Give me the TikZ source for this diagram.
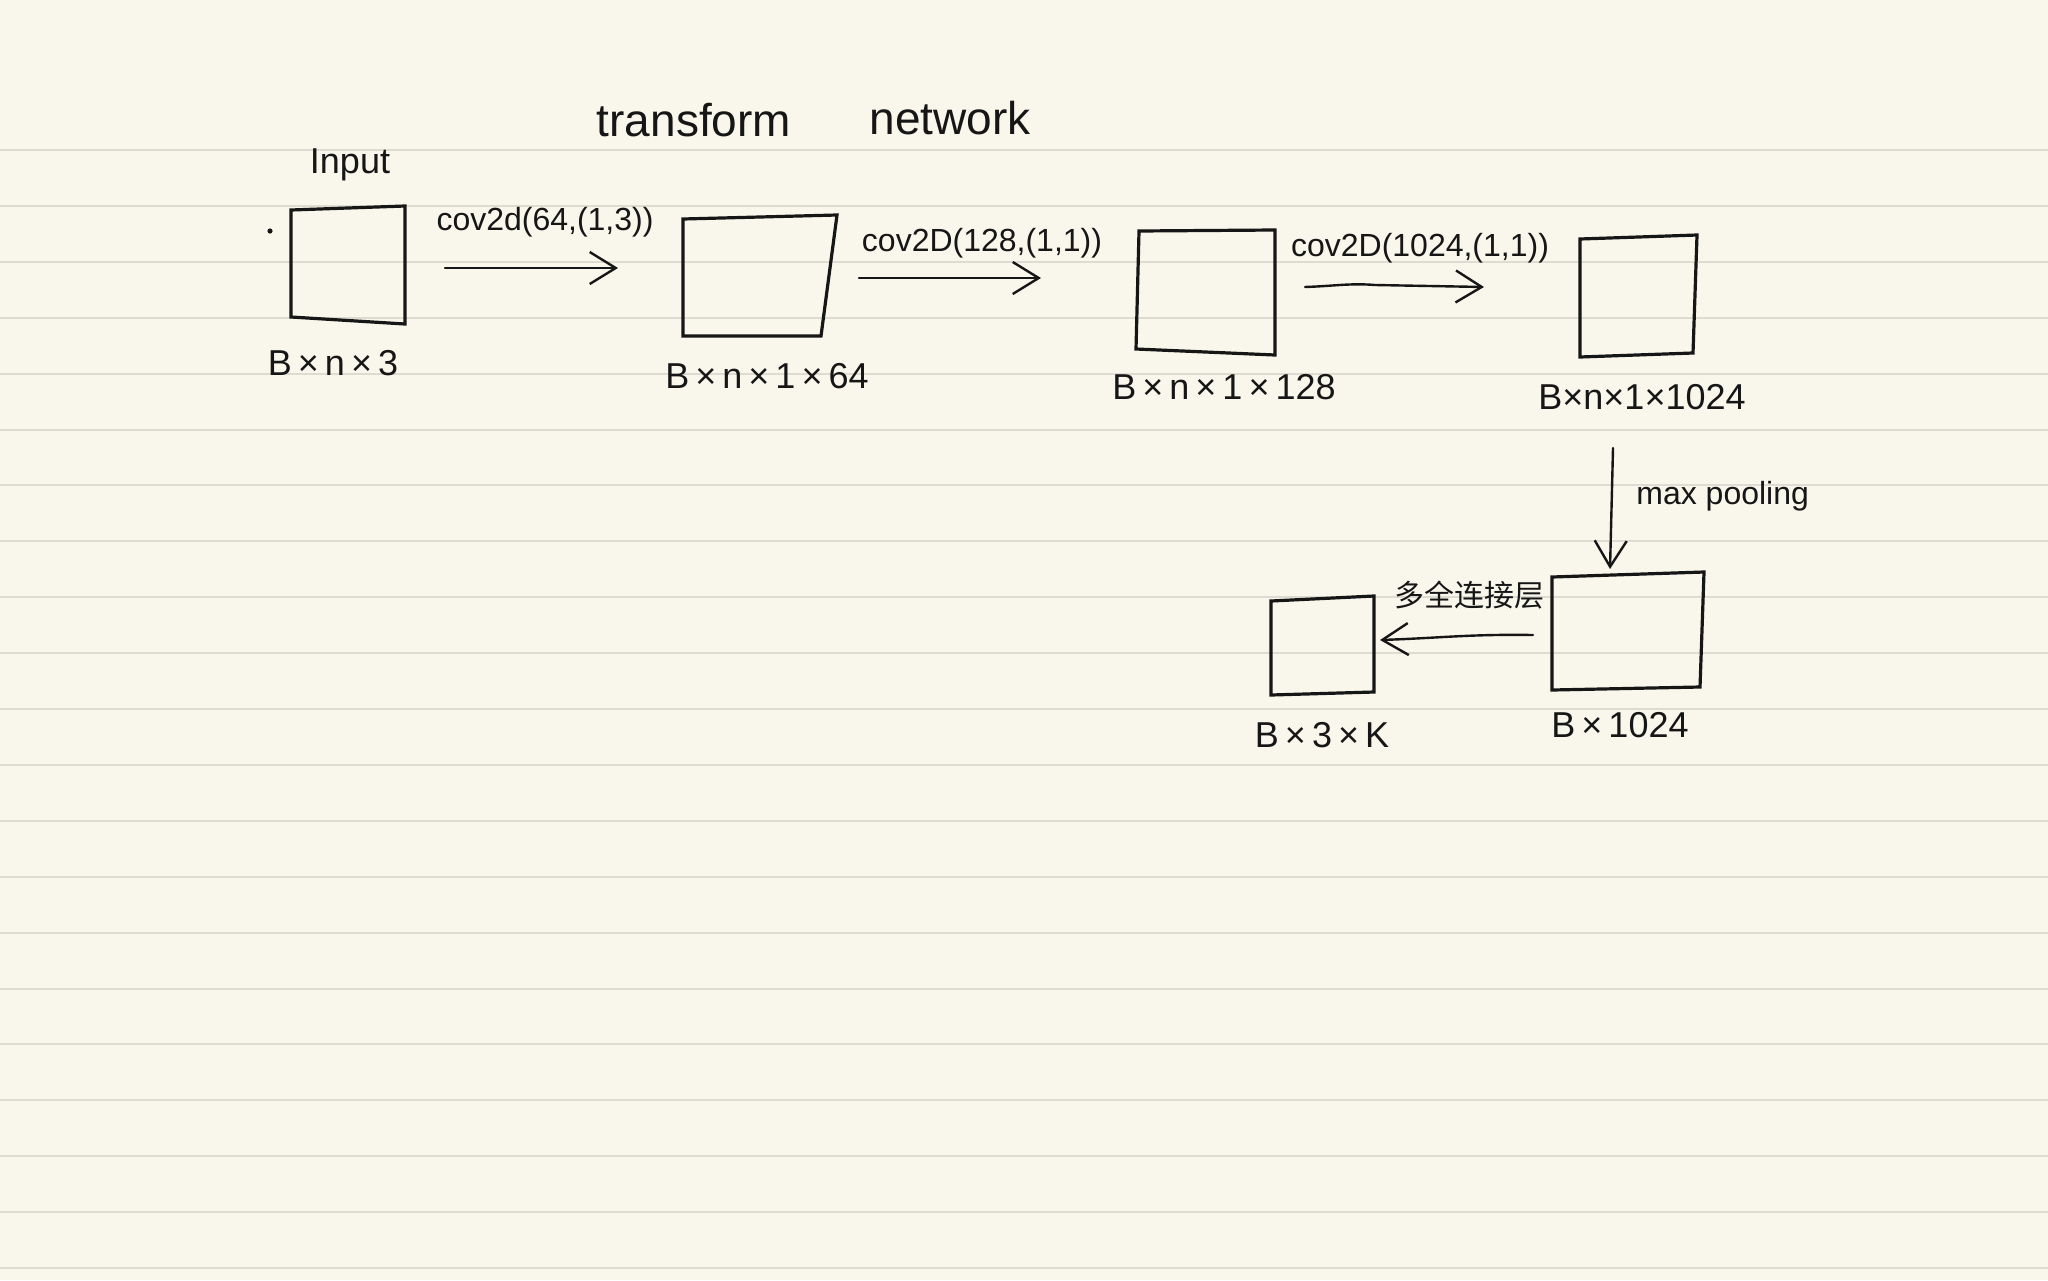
\documentclass[tikz,border=0pt]{standalone}
\usepackage{fontspec}
\setmainfont{Liberation Sans}
\newfontfamily\cjkfont{Noto Sans CJK SC}
\usetikzlibrary{arrows.meta}
\definecolor{paper}{RGB}{249,247,236}
\definecolor{ruleline}{RGB}{222,220,208}
\definecolor{ink}{RGB}{22,22,22}
\newcommand{\tms}{\,×\,}
\begin{document}
\begin{tikzpicture}[x=0.5pt,y=-0.5pt,
  boxline/.style={draw=ink,line width=1.6pt,line join=miter},
  flow/.style={draw=ink,line width=1.2pt,line cap=round,
    -{Straight Barb[length=13pt,width=16pt,line width=1.2pt]}},
  lbl/.style={text=ink,inner sep=0pt,font=\fontsize{18}{20}\selectfont},
  oplbl/.style={text=ink,inner sep=0pt,font=\fontsize{16}{19}\selectfont},
  ttl/.style={text=ink,inner sep=0pt,font=\fontsize{23}{26}\selectfont}]
\useasboundingbox[fill=paper] (0,0) rectangle (2048,1280);
% ruled lines
\foreach \k in {0,...,20}
  \draw[ruleline,line width=1pt] (0,150+55.9*\k) -- (2048,150+55.9*\k);

% title
\node[ttl] (t1) at (694,120) {transform};
\node[ttl] (t2) at (950,118) {network};

% box 1 (input)
\coordinate (b1a) at (291,210); \coordinate (b1b) at (405,206);
\coordinate (b1c) at (405,324); \coordinate (b1d) at (291,317);
\draw[boxline] (b1a) -- (b1b) -- (b1c) -- (b1d) -- cycle;
\fill[ink] (270,231) circle (1.3pt);
\node[lbl] (in) at (350,165) {Input};
\node[lbl] (s1) at (333,363) {B\tms n\tms 3};

% box 2
\coordinate (b2a) at (683,219); \coordinate (b2b) at (837,215);
\coordinate (b2c) at (821,336); \coordinate (b2d) at (683,336);
\draw[boxline] (b2a) -- (b2b) -- (b2c) -- (b2d) -- cycle;
\node[lbl] (s2) at (767,376) {B\tms n\tms 1\tms 64};

% box 3
\coordinate (b3a) at (1139,231); \coordinate (b3b) at (1275,230);
\coordinate (b3c) at (1275,355); \coordinate (b3d) at (1136,349);
\draw[boxline] (b3a) -- (b3b) -- (b3c) -- (b3d) -- cycle;
\node[lbl] (s3) at (1224,387) {B\tms n\tms 1\tms 128};

% box 4
\coordinate (b4a) at (1580,239); \coordinate (b4b) at (1697,235);
\coordinate (b4c) at (1693,353); \coordinate (b4d) at (1580,357);
\draw[boxline] (b4a) -- (b4b) -- (b4c) -- (b4d) -- cycle;
\node[lbl] (s4) at (1642,397) {B×n×1×1024};

% box 5
\coordinate (b5a) at (1552,577); \coordinate (b5b) at (1704,572);
\coordinate (b5c) at (1700,687); \coordinate (b5d) at (1552,690);
\draw[boxline] (b5a) -- (b5b) -- (b5c) -- (b5d) -- cycle;
\node[lbl] (s5) at (1620,725) {B\tms 1024};

% box 6
\coordinate (b6a) at (1271,601); \coordinate (b6b) at (1374,596);
\coordinate (b6c) at (1374,692); \coordinate (b6d) at (1271,695);
\draw[boxline] (b6a) -- (b6b) -- (b6c) -- (b6d) -- cycle;
\node[lbl] (s6) at (1322,735) {B\tms 3\tms K};

% arrows
\coordinate (a1s) at (445,268); \coordinate (a1e) at (618,268);
\draw[flow] (a1s) -- (a1e);
\node[oplbl] (o1) at (545,222) {cov2d(64,(1,3))};

\coordinate (a2s) at (859,278); \coordinate (a2e) at (1041,278);
\draw[flow] (a2s) -- (a2e);
\node[oplbl] (o2) at (982,243) {cov2D(128,(1,1))};

\coordinate (a3s) at (1305,287); \coordinate (a3e) at (1484,287);
\draw[flow] (a3s) .. controls (1335,286) and (1350,283) .. (1375,285) -- (a3e);
\node[oplbl] (o3) at (1420,248) {cov2D(1024,(1,1))};

\coordinate (a4s) at (1613,448); \coordinate (a4e) at (1610,569);
\draw[flow] (a4s) -- (a4e);
\node[oplbl,anchor=west] (o4) at (1636,496) {max pooling};

\coordinate (a5s) at (1533,635); \coordinate (a5e) at (1380,640);
\draw[flow] (a5s) .. controls (1470,634) and (1440,638) .. (a5e);
\node[text=ink,inner sep=0pt,font=\cjkfont\fontsize{15}{18}\selectfont] (o5) at (1469,595) {多全连接层};
\end{tikzpicture}
\end{document}
